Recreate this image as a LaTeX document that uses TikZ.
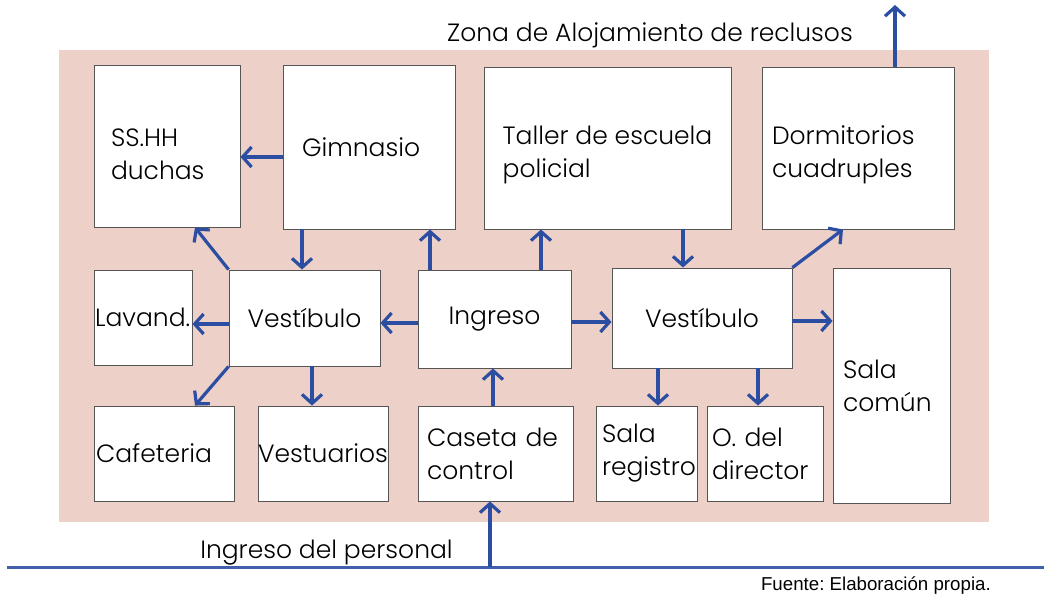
\documentclass[tikz,border=0pt]{standalone}
\usepackage{fontspec}
\setmainfont{Poppins Light}
\newfontfamily\fuentefont{Liberation Sans}
\usepackage{tikz}
\usetikzlibrary{arrows.meta,positioning,calc}
\definecolor{zona}{HTML}{EDD0C7}
\definecolor{flecha}{HTML}{2C4EA2}
\definecolor{borde}{HTML}{555555}
\frenchspacing

\begin{document}
\begin{tikzpicture}[x=1pt,y=-1pt,>={Straight Barb[length=9pt,width=20pt]},
  room/.style={draw=borde,line width=0.9pt,fill=white,inner ysep=0pt,align=left,font=\fontsize{25}{33}\selectfont},
  arr/.style={->,draw=flecha,line width=3.2pt},
  txt/.style={font=\fontsize{25}{30}\selectfont,inner sep=0pt}]
  \useasboundingbox (0,0) rectangle (1044,595);
  \fill[zona] (59,50) rectangle (989,522);
  \node[room,minimum width=146pt,minimum height=162pt,text width=112pt,inner xsep=17pt] (ss) at (167,146) {\rule{0pt}{34pt}SS.HH\\duchas};
  \node[room,minimum width=172pt,minimum height=164pt,text width=134pt,inner xsep=19pt] (gim) at (369,147) {Gimnasio};
  \node[room,minimum width=247pt,minimum height=162pt,inner xsep=0pt] (tal) at (607.5,148) {\rule{0pt}{32pt}Taller de escuela\\policial};
  \node[room,minimum width=192pt,minimum height=162pt,text width=172pt,inner xsep=10pt] (dor) at (858,148) {\rule{0pt}{32pt}Dormitorios\\cuadruples};
  \node[room,minimum width=98pt,minimum height=95pt,text width=96pt,inner xsep=1pt] (lav) at (143,317.5) {Lavand.};
  \node[room,minimum width=151pt,minimum height=96pt,text width=131pt,inner xsep=10pt,align=center] (vl) at (304.5,318) {Vestíbulo};
  \node[room,minimum width=153pt,minimum height=98pt,text width=133pt,inner xsep=10pt,align=center] (ing) at (494.5,319) {Ingreso\\[4pt]};
  \node[room,minimum width=180pt,minimum height=100pt,text width=160pt,inner xsep=10pt,align=center] (vr) at (702,318) {Vestíbulo};
  \node[room,minimum width=117pt,minimum height=235pt,text width=97pt,inner xsep=10pt] (sc) at (891.5,385.5) {Sala\\común};
  \node[room,minimum width=140pt,minimum height=95pt,text width=136pt,inner xsep=2pt] (caf) at (164,453.5) {Cafeteria};
  \node[room,minimum width=130pt,minimum height=95pt,text width=130pt,inner xsep=0pt,align=center] (vest) at (323,453.5) {Vestuarios};
  \node[room,minimum width=155pt,minimum height=95pt,text width=137pt,inner xsep=9pt] (cas) at (495.5,453.5) {Caseta de\\control};
  \node[room,minimum width=101pt,minimum height=95pt,text width=89pt,inner xsep=6pt] (sr) at (646.5,453.5) {Sala\\registro};
  \node[room,minimum width=116pt,minimum height=95pt,text width=106pt,inner xsep=5pt] (od) at (765,453.5) {O. del\\director};
  \node[txt,anchor=base] (zt) at (650,41) {Zona de Alojamiento de reclusos};
  \node[txt,anchor=base] (it) at (326.5,558) {Ingreso del personal};
  \node[font=\fuentefont\fontsize{18.7}{21}\selectfont,inner sep=0pt,anchor=base east] (ft) at (991,590) {Fuente: Elaboración propia.};
  \coordinate (sal) at (895,5);
  \coordinate (l0) at (7,567);
  \coordinate (l1) at (1044,567);
  \draw[draw=flecha!90!white,line width=3pt] (l0) -- (l1);
  \draw[arr] ([yshift=-10pt]gim.west) -- ([yshift=-10pt]gim.west -| ss.east);
  \draw[arr] (vl.north west) -- ([xshift=28pt]ss.south);
  \draw[arr] ([xshift=-67pt]gim.south) -- ([xshift=-67pt]gim.south |- vl.north);
  \draw[arr] ([xshift=-64.5pt]ing.north) -- ([xshift=-64.5pt]ing.north |- gim.south);
  \draw[arr] ([xshift=46.5pt]ing.north) -- ([xshift=46.5pt]ing.north |- tal.south);
  \draw[arr] ([xshift=75.5pt]tal.south) -- ([xshift=75.5pt]tal.south |- vr.north);
  \draw[arr] (vr.north east) -- ([xshift=-15pt]dor.south);
  \draw[arr] ([xshift=37pt]dor.north) -- (sal);
  \draw[arr] ([yshift=-4pt]ing.west) -- ([yshift=-4pt]ing.west -| vl.east);
  \draw[arr] ([yshift=-6pt]vl.west) -- ([yshift=-6pt]vl.west -| lav.east);
  \draw[arr] (vl.south west) -- ([xshift=31pt]caf.north);
  \draw[arr] ([xshift=7.5pt]vl.south) -- ([xshift=7.5pt]vl.south |- vest.north);
  \draw[arr] ([xshift=-2.5pt]cas.north) -- ([xshift=-2.5pt]cas.north |- ing.south);
  \draw[arr] ([yshift=-3pt]ing.east) -- ([yshift=-3pt]ing.east -| vr.west);
  \draw[arr] ([yshift=-3pt]vr.east) -- ([yshift=-3pt]vr.east -| sc.west);
  \draw[arr] ([xshift=-44pt]vr.south) -- ([xshift=-44pt]vr.south |- sr.north);
  \draw[arr] ([xshift=56pt]vr.south) -- ([xshift=56pt]vr.south |- od.north);
  \draw[arr] ($(l0)!(cas.south)!(l1)+(-5.5,0)$) -- ([xshift=-5.5pt]cas.south);
\end{tikzpicture}
\end{document}
